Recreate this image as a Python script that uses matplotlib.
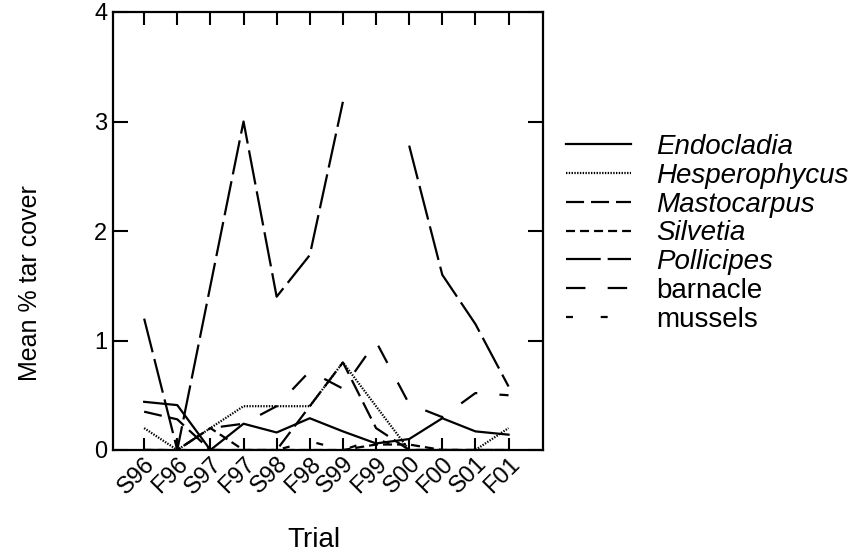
import numpy as np
import matplotlib
matplotlib.use("Agg")
import matplotlib.pyplot as plt
from matplotlib.transforms import ScaledTranslation

plt.rcParams['font.family'] = ['Liberation Sans', 'DejaVu Sans']
plt.rcParams['lines.scale_dashes'] = False

trials = ["S96", "F96", "S97", "F97", "S98", "F98", "S99", "F99", "S00", "F00", "S01", "F01"]

endocladia = [0.44, 0.41, 0.0, 0.24, 0.16, 0.29, 0.17, 0.06, 0.10, 0.29, 0.17, 0.14]
hesperophycus = [0.20, 0.0, 0.20, 0.40, 0.40, 0.40, 0.80, 0.40, 0.0, 0.0, 0.0, 0.20]
mastocarpus = [0.35, 0.28, 0.0, 0.0, 0.0, 0.40, 0.80, 0.20, 0.0, 0.0, 0.0, 0.0]
silvetia = [0.0, 0.0, 0.20, 0.0, 0.0, 0.0, 0.0, 0.05, 0.05, 0.0, 0.0, 0.0]
pollicipes = [1.20, 0.0, 1.50, 3.00, 1.40, 1.78, 3.18, np.nan, 2.78, 1.60, 1.15, 0.58]
barnacle = [0.0, 0.0, 0.20, 0.24, 0.40, 0.72, 0.56, 0.99, 0.42, 0.30, 0.52, 0.50]
mussels = [0.0, 0.0, 0.0, 0.0, 0.0, 0.08, 0.0, 0.10, 0.0, 0.0, 0.0, 0.0]

# name, values, dash style, italic label
series = [
    ("Endocladia", endocladia, "-", True),
    ("Hesperophycus", hesperophycus, (0, (1, 1)), True),
    ("Mastocarpus", mastocarpus, (0, (13, 5)), True),
    ("Silvetia", silvetia, (0, (6.5, 3.6)), True),
    ("Pollicipes", pollicipes, (0, (25, 5)), True),
    ("barnacle", barnacle, (0, (14, 16)), False),
    ("mussels", mussels, (0, (5, 20)), False),
]

fig = plt.figure(figsize=(8.56, 5.57), dpi=100)
ax = fig.add_axes([113 / 856, 1 - 450 / 557, 430 / 856, 438 / 557])

x = np.arange(len(trials))
handles = []
for name, vals, ls, italic in series:
    ln, = ax.plot(x, vals, color="black", lw=1.6, linestyle=ls, label=name)
    handles.append(ln)

ax.set_xlim(-0.94, 12.04)
ax.set_ylim(0, 4)
ax.set_yticks([0, 1, 2, 3, 4])
ax.set_xticks(x)
ax.set_xticklabels(trials, rotation=45, ha="right", va="top",
                   rotation_mode="anchor", fontsize=17)
# nudge the slanted labels so their ends sit just right of each tick
shift = ScaledTranslation(9 / 100, 0, fig.dpi_scale_trans)
for lab in ax.get_xticklabels():
    lab.set_transform(lab.get_transform() + shift)
ax.tick_params(axis="x", direction="in", length=9, width=1.5, top=True,
               pad=2)
ax.tick_params(axis="y", direction="in", length=11, width=1.5, right=True,
               labelsize=17, pad=4)
for sp in ax.spines.values():
    sp.set_linewidth(1.6)

fig.text(30 / 856, 1 - 283 / 557, "Mean % tar cover", rotation=90,
         ha="center", va="center", fontsize=18)
fig.text(314 / 856, 1 - 540 / 557, "Trial", ha="center", va="center",
         fontsize=20)

leg = ax.legend(handles=handles, loc="upper left",
                bbox_to_anchor=(566 / 856, 1 - 134 / 557),
                bbox_transform=fig.transFigure, frameon=False, fontsize=20,
                handlelength=2.34, handletextpad=0.9, labelspacing=0.1,
                borderpad=0, borderaxespad=0)
for txt, (name, vals, ls, italic) in zip(leg.get_texts(), series):
    if italic:
        txt.set_style("italic")

fig.savefig("out.png", dpi=100, facecolor="white")
